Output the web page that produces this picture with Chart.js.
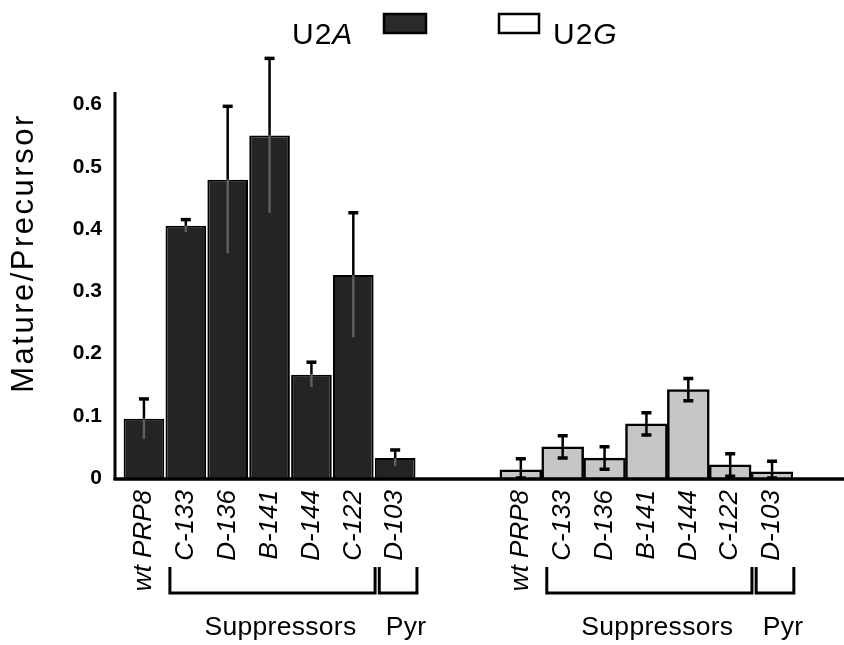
<!DOCTYPE html>
<html>
<head>
<meta charset="utf-8">
<script src="https://cdn.jsdelivr.net/npm/chart.js@4"></script>
<style>
  html, body { margin: 0; padding: 0; background: #fff; }
  #wrap { width: 844px; height: 645px; }
</style>
</head>
<body>
<div id="wrap"><canvas id="splicingChart" width="844" height="645"></canvas></div>
<script>
// strains
const strains = ['wt PRP8', 'C-133', 'D-136', 'B-141', 'D-144', 'C-122', 'D-103'];
const gapLabels = ['', ''];

// Mature/Precursor ratio and error (one side)
const u2aValues = [0.095, 0.405, 0.479, 0.55, 0.166, 0.326, 0.032];
const u2aErrors = [0.032, 0.010, 0.118, 0.124, 0.020, 0.100, 0.013];
const u2gValues = [0.013, 0.050, 0.032, 0.087, 0.142, 0.021, 0.010];
const u2gErrors = [0.018, 0.018, 0.018, 0.018, 0.018, 0.018, 0.017];

const yTicks = [0, 0.1, 0.2, 0.3, 0.4, 0.5, 0.6];

// brackets under the strain names (index into strains)
const bracketGroups = [
  { label: 'Suppressors', first: 1, last: 5 },
  { label: 'Pyr', first: 6, last: 6 }
];

const FONT = "'Liberation Sans', Arial, Helvetica, sans-serif";
Chart.defaults.font.family = FONT;
Chart.defaults.color = '#000';

const nulls = n => Array(n).fill(null);
const secondStart = strains.length + gapLabels.length;
const xLabels = [...strains, ...gapLabels, ...strains];

const figurePlugin = {
  id: 'figure',
  afterDatasetsDraw(chart) {
    const ctx = chart.ctx;
    const ys = chart.scales.y;
    const area = chart.chartArea;
    const y0 = ys.getPixelForValue(0);

    // axis lines
    ctx.save();
    ctx.strokeStyle = '#000';
    ctx.lineWidth = 3;
    ctx.beginPath();
    ctx.moveTo(area.left - 8, area.top);
    ctx.lineTo(area.left - 8, y0 + 2);
    ctx.stroke();
    ctx.lineWidth = 3.5;
    ctx.beginPath();
    ctx.moveTo(area.left - 9.5, y0 + 1);
    ctx.lineTo(chart.width, y0 + 1);
    ctx.stroke();

    // error bars
    const sets = [
      { d: 0, vals: u2aValues, errs: u2aErrors, start: 0, dark: true },
      { d: 1, vals: u2gValues, errs: u2gErrors, start: secondStart, dark: false }
    ];
    sets.forEach(s => {
      const meta = chart.getDatasetMeta(s.d);
      s.vals.forEach((v, j) => {
        const el = meta.data[s.start + j];
        const x = el.x;
        const yTop = ys.getPixelForValue(v + s.errs[j]);
        const yBar = ys.getPixelForValue(v);
        const yLow = ys.getPixelForValue(Math.max(v - s.errs[j], 0));
        ctx.lineCap = 'butt';
        ctx.lineWidth = 2.5;
        ctx.strokeStyle = s.dark ? '#5e5e5e' : '#000';
        ctx.beginPath();
        ctx.moveTo(x, yBar);
        ctx.lineTo(x, yLow);
        ctx.stroke();
        ctx.strokeStyle = '#000';
        ctx.beginPath();
        ctx.moveTo(x, yBar);
        ctx.lineTo(x, yTop);
        ctx.stroke();
        ctx.lineWidth = 3.5;
        ctx.beginPath();
        ctx.moveTo(x - 5, yTop);
        ctx.lineTo(x + 5, yTop);
        if (!s.dark) {
          ctx.moveTo(x - 5, yLow);
          ctx.lineTo(x + 5, yLow);
        }
        ctx.stroke();
      });
    });
    ctx.restore();
  },
  afterDraw(chart) {
    const ctx = chart.ctx;
    const xs = chart.scales.x;
    const area = chart.chartArea;
    const w = xs.getPixelForValue(1) - xs.getPixelForValue(0);

    ctx.save();
    ctx.fillStyle = '#000';
    ctx.strokeStyle = '#000';

    // brackets and group names
    [0, secondStart].forEach(start => {
      bracketGroups.forEach(g => {
        const left = xs.getPixelForValue(start + g.first) - 0.38 * w;
        const right = xs.getPixelForValue(start + g.last) + 0.52 * w;
        const top = area.bottom + 89;
        const bot = area.bottom + 115;
        ctx.lineWidth = 3;
        ctx.lineJoin = 'miter';
        ctx.beginPath();
        ctx.moveTo(left, top);
        ctx.lineTo(left, bot);
        ctx.lineTo(right, bot);
        ctx.lineTo(right, top);
        ctx.stroke();
        ctx.font = '26.5px ' + FONT;
        ctx.letterSpacing = '0.3px';
        ctx.textAlign = 'center';
        ctx.textBaseline = 'alphabetic';
        ctx.fillText(g.label, (left + right) / 2 + 8, area.bottom + 157);
        ctx.letterSpacing = '0px';
      });
    });

    // legend
    const drawName = (x, base, italicPart) => {
      ctx.letterSpacing = '1px';
      ctx.textAlign = 'left';
      ctx.textBaseline = 'alphabetic';
      ctx.font = '30px ' + FONT;
      ctx.fillText('U2', x, base);
      const wU = ctx.measureText('U2').width;
      ctx.font = 'italic 30px ' + FONT;
      ctx.fillText(italicPart, x + wU, base);
      ctx.letterSpacing = '0px';
    };
    drawName(292, 44, 'A');
    ctx.fillStyle = '#2a2a2a';
    ctx.fillRect(384, 14, 42, 19);
    ctx.lineWidth = 2.5;
    ctx.strokeRect(384, 14, 42, 19);
    ctx.fillStyle = '#fff';
    ctx.fillRect(499, 14, 40, 19);
    ctx.strokeRect(499, 14, 40, 19);
    ctx.fillStyle = '#000';
    drawName(553, 44, 'G');

    // y axis title
    ctx.translate(24, 253);
    ctx.rotate(-Math.PI / 2);
    ctx.font = '31px ' + FONT;
    ctx.letterSpacing = '2.5px';
    ctx.textAlign = 'center';
    ctx.textBaseline = 'middle';
    ctx.fillText('Mature/Precursor', 0, 0);
    ctx.restore();
  }
};

const ctx = document.getElementById('splicingChart').getContext('2d');
const splicingChart = new Chart(ctx, {
  type: 'bar',
  data: {
    labels: xLabels,
    datasets: [{
      label: 'U2A',
      data: [...u2aValues, ...nulls(gapLabels.length + strains.length)],
      backgroundColor: '#242424',
      borderColor: '#000',
      borderWidth: 2,
      grouped: false,
      barPercentage: 0.97,
      categoryPercentage: 1
    },
    {
      label: 'U2G',
      data: [...nulls(secondStart), ...u2gValues],
      backgroundColor: '#c6c6c6',
      borderColor: '#000',
      borderWidth: 2.5,
      grouped: false,
      barPercentage: 1,
      categoryPercentage: 1
    }]
  },
  options: {
    responsive: false,
    animation: false,
    devicePixelRatio: 1,
    layout: { padding: { top: 92, right: 51, left: 0, bottom: 0 } },
    scales: {
      x: {
        grid: { display: false, drawTicks: false },
        border: { display: false },
        ticks: {
          autoSkip: false,
          minRotation: 90,
          maxRotation: 90,
          padding: 12,
          font: { size: 26, style: 'italic' }
        },
        afterFit(scale) { scale.height = 167; }
      },
      y: {
        min: 0,
        max: 0.62,
        grid: { display: false, drawTicks: false },
        border: { display: false },
        afterBuildTicks(scale) { scale.ticks = yTicks.map(v => ({ value: v })); },
        ticks: {
          padding: 21,
          font: { size: 21, weight: 'bold' },
          callback: v => (v === 0 ? '0' : v.toFixed(1))
        },
        afterFit(scale) { scale.width = 123; }
      }
    },
    plugins: {
      legend: { display: false },
      tooltip: { enabled: false }
    }
  },
  plugins: [figurePlugin]
});
</script>
</body>
</html>
